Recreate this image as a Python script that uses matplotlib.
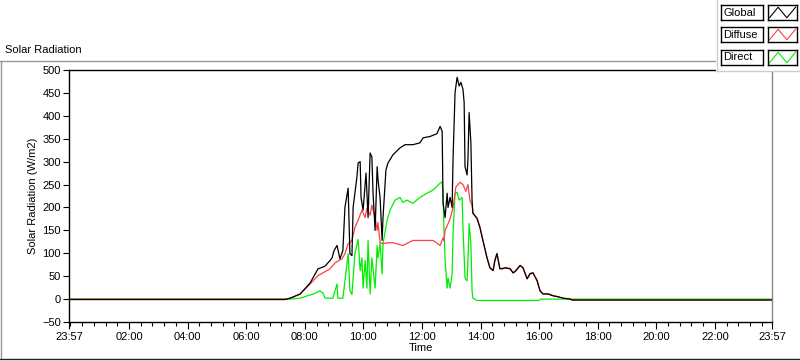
import matplotlib
matplotlib.use('Agg')
import matplotlib.pyplot as plt
from matplotlib.lines import Line2D
from matplotlib.patches import Rectangle

plt.rcParams['font.family'] = ['Liberation Sans', 'DejaVu Sans']
plt.rcParams['font.size'] = 8

# time of day in hours (x axis runs 23:57 -> 23:57)
t_global = [-0.05, 7.32, 7.50, 7.84, 8.18, 8.45, 8.62, 8.69, 8.86, 8.93, 9.00, 9.10, 9.20, 9.30,
            9.37, 9.48, 9.54, 9.61, 9.65, 9.78, 9.82, 9.89, 9.92, 9.99, 10.09, 10.16, 10.23, 10.29,
            10.33, 10.40, 10.47, 10.50, 10.57, 10.64, 10.67, 10.77, 10.84, 11.01, 11.25, 11.42,
            11.69, 11.93, 12.04, 12.28, 12.51, 12.62, 12.69, 12.72, 12.79, 12.86, 12.89, 12.96,
            13.03, 13.06, 13.13, 13.20, 13.27, 13.33, 13.40, 13.44, 13.47, 13.54, 13.57, 13.61,
            13.67, 13.71, 13.74, 13.88, 13.98, 14.08, 14.22, 14.32, 14.43, 14.49, 14.56, 14.66,
            14.73, 14.84, 15.01, 15.11, 15.18, 15.35, 15.45, 15.59, 15.69, 15.79, 15.93, 16.03,
            16.13, 16.30, 16.48, 16.65, 16.82, 17.06, 17.12, 23.95]
global_rad = [-1, -1, 2, 11, 35, 66, 70, 72, 84, 90, 106, 117, 88, 106,
              200, 242, 99, 95, 200, 267, 297, 300, 222, 194, 275, 178, 319, 310,
              231, 150, 289, 260, 222, 128, 178, 282, 297, 315, 330, 337,
              337, 341, 352, 355, 361, 377, 366, 209, 178, 231, 200, 222,
              200, 304, 451, 484, 465, 473, 458, 429, 289, 271, 304, 407,
              341, 216, 187, 176, 156, 128, 90, 68, 62, 84, 99, 66,
              66, 68, 66, 57, 60, 73, 68, 44, 55, 57, 40, 18,
              11, 11, 7, 5, 2, 0, -2, -2]

t_diffuse = [-0.05, 7.32, 7.50, 7.84, 8.18, 8.45, 8.86, 9.03, 9.27, 9.37, 9.48, 9.61, 9.71, 9.82,
             9.95, 10.06, 10.12, 10.23, 10.29, 10.40, 10.47, 10.50, 10.57, 10.67, 10.81, 11.01,
             11.35, 11.69, 12.04, 12.38, 12.62, 12.72, 12.75, 12.79, 12.86, 12.96, 13.06, 13.16,
             13.30, 13.40, 13.50, 13.57, 13.64, 13.71, 13.74, 13.88, 13.98, 14.08, 14.22, 14.32,
             14.43, 14.49, 14.56, 14.66, 14.73, 14.84, 15.01, 15.11, 15.18, 15.35, 15.45, 15.59,
             15.69, 15.79, 15.93, 16.03, 16.13, 16.30, 16.48, 16.65, 16.82, 17.06, 17.12, 23.95]
diffuse_rad = [0, 0, 2, 11, 33, 51, 66, 79, 88, 99, 121, 128, 156, 172,
               194, 178, 198, 183, 205, 178, 150, 167, 123, 121, 123, 123,
               117, 128, 128, 128, 117, 134, 128, 150, 160, 175, 200, 245,
               255, 250, 235, 250, 215, 205, 188, 177, 157, 129, 91, 69,
               63, 86, 100, 67, 67, 69, 67, 58, 61, 74, 69, 45,
               56, 58, 41, 19, 12, 12, 8, 5, 2, 0, -2, -2]

t_direct = [-0.05, 7.50, 7.84, 8.28, 8.52, 8.62, 8.69, 8.96, 9.10, 9.13, 9.30, 9.44, 9.48, 9.54,
            9.61, 9.71, 9.82, 9.89, 9.95, 9.99, 10.06, 10.12, 10.16, 10.23, 10.29, 10.40, 10.47,
            10.50, 10.57, 10.64, 10.67, 10.81, 10.91, 11.08, 11.25, 11.35, 11.49, 11.69, 11.93,
            12.17, 12.38, 12.62, 12.69, 12.72, 12.75, 12.79, 12.86, 12.89, 12.96, 13.03, 13.06,
            13.13, 13.20, 13.27, 13.37, 13.40, 13.47, 13.54, 13.57, 13.61, 13.67, 13.71, 13.74,
            13.88, 16.00, 16.05, 23.95]
direct_rad = [0, 0, 2, 11, 18, 13, 2, 2, 33, 2, 2, 77, 99, 18,
              10, 99, 130, 62, 90, 24, 84, 24, 128, 11, 90, 24, 117,
              90, 123, 55, 121, 172, 194, 216, 222, 211, 216, 209, 222,
              231, 238, 253, 256, 233, 156, 84, 24, 46, 24, 55, 143,
              231, 233, 216, 222, 156, 46, 40, 84, 165, 121, 18, 2,
              -3, -3, 0, 0]

xtick_pos = [-0.05, 2, 4, 6, 8, 10, 12, 14, 16, 18, 20, 22, 23.95]
xtick_labels = ['23:57', '02:00', '04:00', '06:00', '08:00', '10:00', '12:00',
                '14:00', '16:00', '18:00', '20:00', '22:00', '23:57']
yticks = list(range(-50, 501, 50))
minor_pos = [i * 0.4 for i in range(60)]

series_names = ['Global', 'Diffuse', 'Direct']
series_colors = ['black', '#ff4040', '#00ee00']

fig = plt.figure(figsize=(8, 3.61), dpi=100)
ax = fig.add_axes([69 / 800, 39 / 361, 703 / 800, 252 / 361])

# draw order: direct, diffuse, global
ax.plot(t_direct, direct_rad, color=series_colors[2], lw=0.9)
ax.plot(t_diffuse, diffuse_rad, color=series_colors[1], lw=0.9)
ax.plot(t_global, global_rad, color=series_colors[0], lw=0.9)

ax.set_xlim(-0.05, 23.95)
ax.set_ylim(-50, 500)
ax.set_xticks(xtick_pos)
ax.set_xticklabels(xtick_labels)
ax.set_xticks([m for m in minor_pos if -0.05 < m < 23.95], minor=True)
ax.set_yticks(yticks)
ax.tick_params(axis='both', direction='out', colors='black', labelsize=8, width=0.8)
ax.tick_params(axis='x', which='major', length=5, pad=2)
ax.tick_params(axis='x', which='minor', length=3, width=0.8)
ax.tick_params(axis='y', length=4, pad=2)
ax.set_xlabel('Time', fontsize=8, labelpad=1)
ax.set_ylabel('Solar Radiation (W/m2)', fontsize=8, labelpad=3)
for s in ['left', 'bottom', 'top']:
    ax.spines[s].set_color('black')
    ax.spines[s].set_linewidth(1)
ax.spines['right'].set_color('#888888')
ax.spines['right'].set_linewidth(1)

# panel frame
fig.add_artist(Line2D([0, 718 / 800], [1 - 60.5 / 361] * 2, color='#999999', lw=1, transform=fig.transFigure))
fig.add_artist(Line2D([1 / 800] * 2, [1 - 60.5 / 361, 2 / 361], color='#999999', lw=1, transform=fig.transFigure))
fig.add_artist(Line2D([0, 1], [2 / 361] * 2, color='#222222', lw=1, transform=fig.transFigure))
fig.text(5 / 800, 1 - 50 / 361, 'Solar Radiation', fontsize=8, va='center', ha='left')

# legend panel
fig.add_artist(Rectangle((716 / 800, 1 - 71 / 361), 84 / 800, 71 / 361, transform=fig.transFigure,
                         facecolor='white', edgecolor='none', zorder=5))
fig.add_artist(Line2D([717 / 800] * 2, [1, 1 - 71 / 361], color='#cccccc', lw=1, transform=fig.transFigure, zorder=6))
fig.add_artist(Line2D([717 / 800, 1], [1 - 71 / 361] * 2, color='#cccccc', lw=1, transform=fig.transFigure, zorder=6))

rows = [(5, 20), (27, 42), (50, 65)]
for (top, bot), name, col in zip(rows, series_names, series_colors):
    tb = fig.add_axes([721 / 800, 1 - bot / 361, 42 / 800, (bot - top) / 361], zorder=7)
    tb.set_xticks([]); tb.set_yticks([])
    tb.text(0.05, 0.5, name, fontsize=8, va='center', ha='left', transform=tb.transAxes)
    sw = fig.add_axes([768 / 800, 1 - bot / 361, 29 / 800, (bot - top) / 361], zorder=7)
    sw.set_xticks([]); sw.set_yticks([])
    sw.plot([0.05, 0.35, 0.65, 0.95], [0.15, 0.85, 0.15, 0.85], color=col, lw=0.8)
    sw.set_xlim(0, 1); sw.set_ylim(0, 1)
    for a in (tb, sw):
        for s in a.spines.values():
            s.set_linewidth(1)
            s.set_color('black')

fig.savefig('out.png', dpi=100)
